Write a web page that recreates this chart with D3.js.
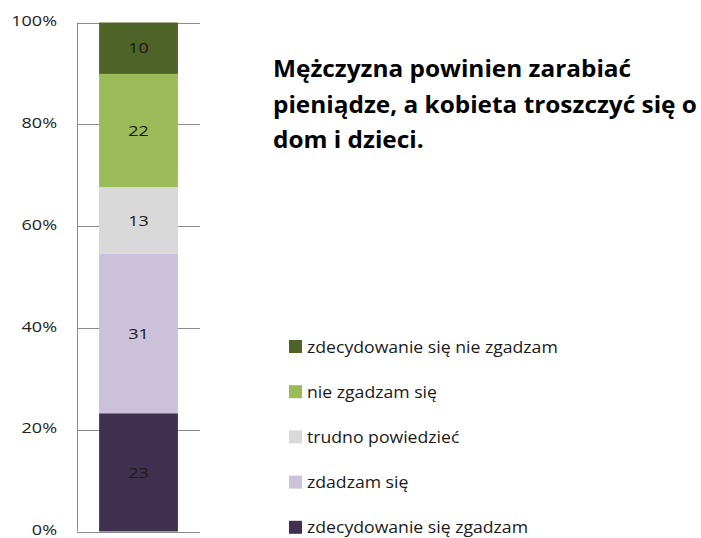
<!DOCTYPE html>
<html>
<head>
<meta charset="utf-8">
<script src="https://cdn.jsdelivr.net/npm/d3@7"></script>
<style>
  body { margin: 0; background: #fff; }
  text { font-family: "Open Sans", sans-serif; }
</style>
</head>
<body>
<div id="chart"></div>
<script>
// answer categories, bottom to top
var categories = ["zdecydowanie się zgadzam", "zdadzam się", "trudno powiedzieć", "nie zgadzam  się", "zdecydowanie się nie zgadzam"];
var values = [23, 31, 13, 22, 10];
var colors = ["#403151", "#ccc1da", "#d9d9d9", "#9bbb59", "#4f6228"];
var yTicks = [0, 20, 40, 60, 80, 100];
var titleLines = ["Mężczyzna powinien zarabiać", "pieniądze, a kobieta troszczyć się o", "dom i dzieci."];

var svgWidth = 701, svgHeight = 538;
var svg = d3.select("#chart").append("svg")
  .attr("width", svgWidth)
  .attr("height", svgHeight);

// the original font is wide and short, so stretch small text sideways a bit
var sx = 1.2;

var total = d3.sum(values);
var stacked = [];
var acc = 0;
values.forEach(function(v, i) {
  stacked.push({ cat: categories[i], value: v, y0: acc / total * 100, y1: (acc + v) / total * 100, color: colors[i] });
  acc += v;
});

var yScale = d3.scaleLinear().domain([0, 100]).range([531.5, 22.5]);
var xScale = d3.scaleBand().domain(["q"]).range([77, 200]).paddingInner(0).paddingOuter(0.28);

// gridlines
svg.selectAll("line.grid")
  .data(yTicks)
  .enter().append("line")
  .attr("x1", 77).attr("x2", 200)
  .attr("y1", d => Math.round(yScale(d)) + 0.5)
  .attr("y2", d => Math.round(yScale(d)) + 0.5)
  .attr("stroke", "#8c8c8c")
  .attr("stroke-width", 1);

// bar segments
svg.selectAll("rect.seg")
  .data(stacked)
  .enter().append("rect")
  .attr("x", xScale("q"))
  .attr("width", xScale.bandwidth())
  .attr("y", d => yScale(d.y1))
  .attr("height", d => yScale(d.y0) - yScale(d.y1))
  .attr("fill", d => d.color);

// axis line
svg.append("line")
  .attr("x1", 77.5).attr("x2", 77.5)
  .attr("y1", yScale(100)).attr("y2", yScale(0))
  .attr("stroke", "#8c8c8c");

// tick labels
svg.selectAll("text.tick")
  .data(yTicks)
  .enter().append("text")
  .attr("transform", d => `translate(57, ${yScale(d) - 1.5}) scale(${sx}, 1)`)
  .attr("dy", "0.35em")
  .attr("text-anchor", "end")
  .style("font-size", "15px")
  .attr("fill", "#222")
  .text(d => d + "%");

// value labels
svg.selectAll("text.val")
  .data(stacked)
  .enter().append("text")
  .attr("transform", d => `translate(${xScale("q") + xScale.bandwidth() / 2}, ${yScale((d.y0 + d.y1) / 2)}) scale(${sx}, 1)`)
  .attr("dy", "0.35em")
  .attr("text-anchor", "middle")
  .style("font-size", "15px")
  .attr("fill", "#1a1a1a")
  .text(d => d.value);

// title - measure first, then stretch so longest line is ~424px wide
var titles = svg.selectAll("text.title")
  .data(titleLines)
  .enter().append("text")
  .style("font-size", "24px")
  .style("font-weight", "bold")
  .attr("fill", "#000")
  .text(d => d);
var maxW = 0;
titles.each(function() { maxW = Math.max(maxW, this.getComputedTextLength()); });
var sxTitle = 424 / maxW;
titles.attr("transform", (d, i) => `translate(273, ${77 + i * 35.5}) scale(${sxTitle}, 1)`);

// legend, top to bottom
var legend = stacked.slice().reverse();
var legendG = svg.selectAll("g.legend")
  .data(legend)
  .enter().append("g")
  .attr("transform", (d, i) => `translate(289, ${347 + i * 45.2})`);

legendG.append("rect")
  .attr("x", 0).attr("y", -7)
  .attr("width", 13).attr("height", 13)
  .attr("fill", d => d.color);

var legendText = legendG.append("text")
  .attr("dy", "0.35em")
  .style("font-size", "16px")
  .attr("fill", "#1a1a1a")
  .text(d => d.cat);
var legW = 0;
legendText.each(function() { legW = Math.max(legW, this.getComputedTextLength()); });
var sxLeg = 251 / legW;
legendText.attr("transform", `translate(18, 0) scale(${sxLeg}, 1)`);
</script>
</body>
</html>
